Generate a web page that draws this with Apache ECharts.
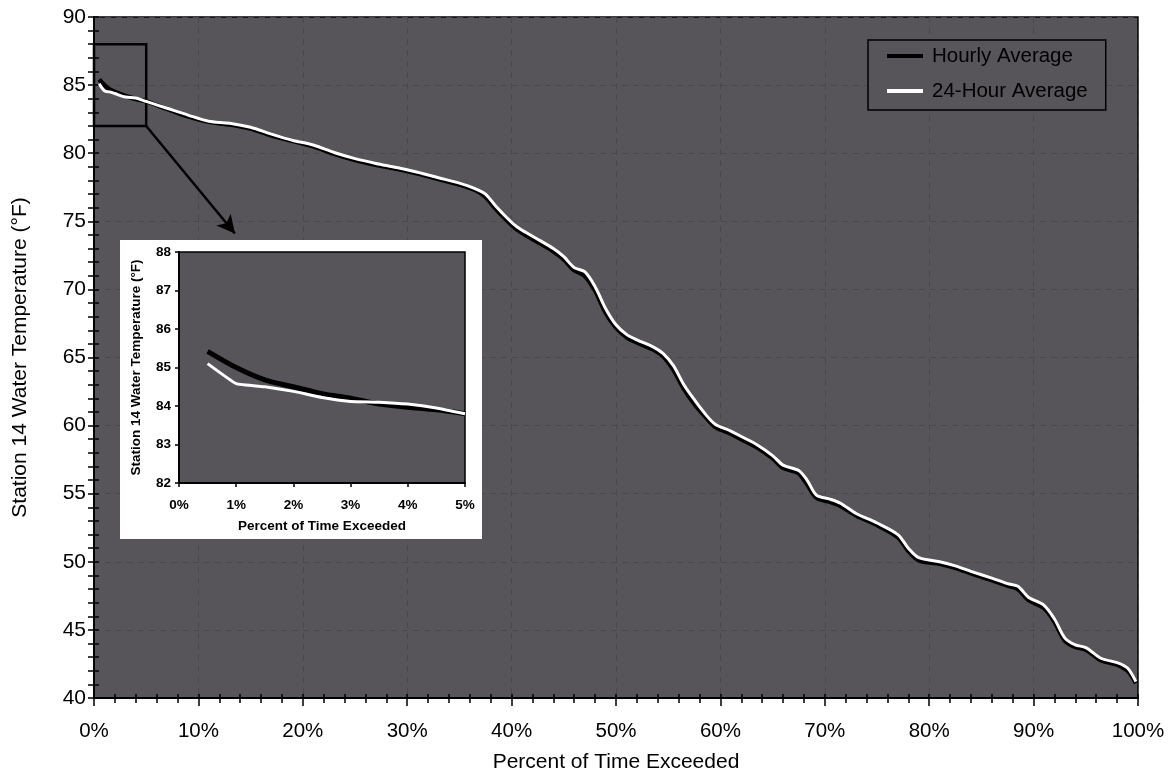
<!DOCTYPE html>
<html>
<head>
<meta charset="utf-8">
<script src="https://cdn.jsdelivr.net/npm/echarts@6/dist/echarts.min.js"></script>
<style>
  html, body { margin: 0; padding: 0; background: #fff; }
  #chart { width: 1174px; height: 775px; }
</style>
</head>
<body>
<div id="chart"></div>
<script>
// Exceedance curve: percent of time each temperature is exceeded
const pct = [0.5, 1, 1.5, 2, 3, 4, 5,
  7, 9, 11, 13, 15, 17, 19, 21, 23, 25, 27, 29, 31, 33, 35,
  36.5, 37.5, 38.5, 39.5, 40.5,
  42, 44, 45, 46, 47, 48, 49, 50, 51, 52,
  53.5, 54.5, 55.5, 56.5, 57.5, 58.5, 59.5,
  61, 62, 63.5, 65, 66, 67.5, 68.3, 69.2, 70.5, 71.5,
  73, 75, 77, 78, 79, 81, 82.5, 84, 86, 87.5,
  88.5, 89.5, 91, 92, 93, 94, 95, 96.5, 98, 99, 99.8];

const hourlyAvg = [85.42, 85.0, 84.68, 84.5, 84.2, 83.97, 83.8,
  83.25, 82.7, 82.3, 82.1, 81.8, 81.3, 80.9, 80.5, 79.95, 79.5, 79.15, 78.85, 78.5, 78.1, 77.7,
  77.3, 76.8, 75.9, 75.1, 74.4,
  73.7, 72.8, 72.2, 71.4, 71.0, 69.9, 68.3, 67.2, 66.5, 66.1,
  65.6, 65.1, 64.1, 62.7, 61.6, 60.7, 59.9,
  59.4, 59.0, 58.4, 57.6, 56.9, 56.5, 55.7, 54.7, 54.4, 54.1,
  53.4, 52.7, 51.8, 50.8, 50.1, 49.85, 49.55, 49.15, 48.65, 48.25,
  48.0, 47.2, 46.6, 45.6, 44.2, 43.75, 43.55, 42.75, 42.45, 42.0, 41.1];

const dailyAvg = [85.1, 84.58, 84.5, 84.38, 84.12, 84.05, 83.8,
  83.3, 82.8, 82.35, 82.2, 81.9, 81.4, 80.95, 80.6, 80.05, 79.6, 79.25, 78.95, 78.6, 78.2, 77.8,
  77.4, 77.0, 76.1, 75.3, 74.6,
  73.9, 73.0, 72.4, 71.6, 71.3, 70.2, 68.6, 67.4, 66.7, 66.3,
  65.8, 65.3, 64.4, 63.0, 61.9, 60.9, 60.1,
  59.6, 59.2, 58.6, 57.8, 57.1, 56.7, 56.0, 54.9, 54.6, 54.3,
  53.55, 52.85, 52.0, 51.0, 50.3, 50.0, 49.7, 49.3, 48.8, 48.4,
  48.2, 47.4, 46.8, 45.8, 44.4, 43.9, 43.7, 42.9, 42.6, 42.2, 41.2];

// Close-up of the first 5 percent
const zoomPct = [0.5, 1, 1.5, 2, 2.5, 3, 3.5, 4, 4.5, 5];
const zoomHourly = [85.42, 85.0, 84.68, 84.5, 84.32, 84.2, 84.05, 83.97, 83.9, 83.8];
const zoomDaily = [85.1, 84.58, 84.5, 84.38, 84.22, 84.12, 84.1, 84.05, 83.95, 83.8];

const seriesNames = ['Hourly Average', '24-Hour Average'];
const yTitle = 'Station 14 Water Temperature (°F)';
const xTitle = 'Percent of Time Exceeded';

const FONT = '"Liberation Sans", Arial, Helvetica, sans-serif';
const PLOT_BG = '#57545a';
const GRID_LINE = '#4a474e';
const zip = (xs, ys) => xs.map((x, i) => [x, ys[i]]);

const chart = echarts.init(document.getElementById('chart'), null, { renderer: 'canvas' });

const blackLine = { color: '#000', width: 1.5 };

chart.setOption({
  backgroundColor: '#fff',
  animation: false,
  textStyle: { fontFamily: FONT, color: '#000' },
  grid: [
    { left: 94, top: 17, right: 36, bottom: 77, show: true, backgroundColor: PLOT_BG,
      borderColor: '#000', borderWidth: 1.5, z: 0, outerBoundsMode: 'none' },
    { left: 179, top: 252, width: 286, height: 231, show: true, backgroundColor: PLOT_BG,
      borderColor: '#000', borderWidth: 1.5, z: 11, outerBoundsMode: 'none' }
  ],
  graphic: [
    { type: 'rect', z: 10, silent: true,
      shape: { x: 120, y: 240, width: 362, height: 299 },
      style: { fill: '#fff' } }
  ],
  legend: {
    data: seriesNames,
    orient: 'vertical',
    left: 868, top: 40,
    padding: [5, 18, 8, 19],
    itemGap: 13,
    itemWidth: 36, itemHeight: 4,
    icon: 'rect',
    backgroundColor: PLOT_BG,
    borderColor: '#000', borderWidth: 1.5,
    textStyle: { fontFamily: FONT, fontSize: 20.5, color: '#000', lineHeight: 22, padding: [0, 0, 0, 4] },
    selectedMode: false,
    z: 20
  },
  xAxis: [
    { gridIndex: 0, type: 'value', min: 0, max: 100, interval: 10, position: 'bottom',
      name: xTitle, nameLocation: 'middle', nameGap: 54,
      nameTextStyle: { fontFamily: FONT, fontSize: 21, color: '#000' },
      axisLine: { lineStyle: { color: '#000', width: 2 } },
      axisTick: { length: 8, lineStyle: blackLine },
      minorTick: { show: true, splitNumber: 5, length: 5, lineStyle: blackLine },
      axisLabel: { formatter: '{value}%', fontFamily: FONT, fontSize: 20.5, color: '#000', margin: 23 },
      splitLine: { show: true, lineStyle: { color: GRID_LINE, type: [6, 5], width: 1 } } },
    { gridIndex: 0, type: 'value', min: 0, max: 100, interval: 10, position: 'bottom',
      axisLine: { show: false },
      axisTick: { inside: true, length: 4, lineStyle: blackLine },
      minorTick: { show: true, splitNumber: 5, length: 4, lineStyle: blackLine },
      axisLabel: { show: false }, splitLine: { show: false } },
    { gridIndex: 1, type: 'value', min: 0, max: 5, interval: 1, position: 'bottom', z: 12,
      name: xTitle, nameLocation: 'middle', nameGap: 36,
      nameTextStyle: { fontFamily: FONT, fontSize: 13.5, fontWeight: 'bold', color: '#000' },
      axisLine: { lineStyle: { color: '#000', width: 2 } },
      axisTick: { length: 4, lineStyle: blackLine },
      axisLabel: { formatter: '{value}%', fontFamily: FONT, fontSize: 13.5, fontWeight: 'bold', color: '#000', margin: 15 },
      splitLine: { show: false } }
  ],
  yAxis: [
    { gridIndex: 0, type: 'value', min: 40, max: 90, interval: 5, position: 'left',
      name: yTitle, nameLocation: 'middle', nameGap: 63,
      nameTextStyle: { fontFamily: FONT, fontSize: 21, color: '#000' },
      axisLine: { show: true, lineStyle: { color: '#000', width: 2 } },
      axisTick: { show: true, length: 6, lineStyle: blackLine },
      minorTick: { show: true, splitNumber: 5, length: 6, lineStyle: blackLine },
      axisLabel: { fontFamily: FONT, fontSize: 21, color: '#000', margin: 8 },
      splitLine: { show: true, lineStyle: { color: GRID_LINE, type: [6, 5], width: 1 } } },
    { gridIndex: 0, type: 'value', min: 40, max: 90, interval: 5, position: 'left',
      axisLine: { show: false },
      axisTick: { show: true, inside: true, length: 5, lineStyle: blackLine },
      minorTick: { show: true, splitNumber: 5, length: 5, lineStyle: blackLine },
      axisLabel: { show: false }, splitLine: { show: false } },
    { gridIndex: 1, type: 'value', min: 82, max: 88, interval: 1, position: 'left', z: 12,
      name: yTitle, nameLocation: 'middle', nameGap: 36,
      nameTextStyle: { fontFamily: FONT, fontSize: 13.5, fontWeight: 'bold', color: '#000' },
      axisLine: { show: true, lineStyle: { color: '#000', width: 2 } },
      axisTick: { show: true, length: 4, lineStyle: blackLine },
      axisLabel: { fontFamily: FONT, fontSize: 13.5, fontWeight: 'bold', color: '#000', margin: 8 },
      splitLine: { show: false } }
  ],
  series: [
    { name: seriesNames[0], type: 'line', xAxisIndex: 0, yAxisIndex: 0,
      data: zip(pct, hourlyAvg), showSymbol: false, symbol: 'none', smooth: 0.3,
      itemStyle: { color: '#000' }, lineStyle: { color: '#000', width: 4.5 }, z: 2, silent: true },
    { name: seriesNames[1], type: 'line', xAxisIndex: 0, yAxisIndex: 0,
      data: zip(pct, dailyAvg), showSymbol: false, symbol: 'none', smooth: 0.3,
      itemStyle: { color: '#fff' }, lineStyle: { color: '#fff', width: 3 }, z: 3, silent: true,
      // frame around the close-up region and the pointer to the inset
      markArea: {
        silent: true,
        label: { show: false },
        itemStyle: { color: 'rgba(0,0,0,0)', borderColor: '#000', borderWidth: 2.5 },
        data: [[{ coord: [0, 88] }, { coord: [5, 82] }]]
      },
      markLine: {
        silent: true,
        symbol: ['none', 'arrow'], symbolSize: [14, 18],
        label: { show: false },
        lineStyle: { color: '#000', width: 2.5, type: 'solid' },
        data: [[{ coord: [5, 82] }, { coord: [13.5, 74.1] }]]
      } },
    { name: seriesNames[0], type: 'line', xAxisIndex: 2, yAxisIndex: 2,
      data: zip(zoomPct, zoomHourly), showSymbol: false, symbol: 'none', smooth: 0.3,
      itemStyle: { color: '#000' }, lineStyle: { color: '#000', width: 5 }, z: 13, silent: true },
    { name: seriesNames[1], type: 'line', xAxisIndex: 2, yAxisIndex: 2,
      data: zip(zoomPct, zoomDaily), showSymbol: false, symbol: 'none', smooth: 0.1,
      itemStyle: { color: '#fff' }, lineStyle: { color: '#fff', width: 3 }, z: 14, silent: true }
  ]
});
</script>
</body>
</html>
